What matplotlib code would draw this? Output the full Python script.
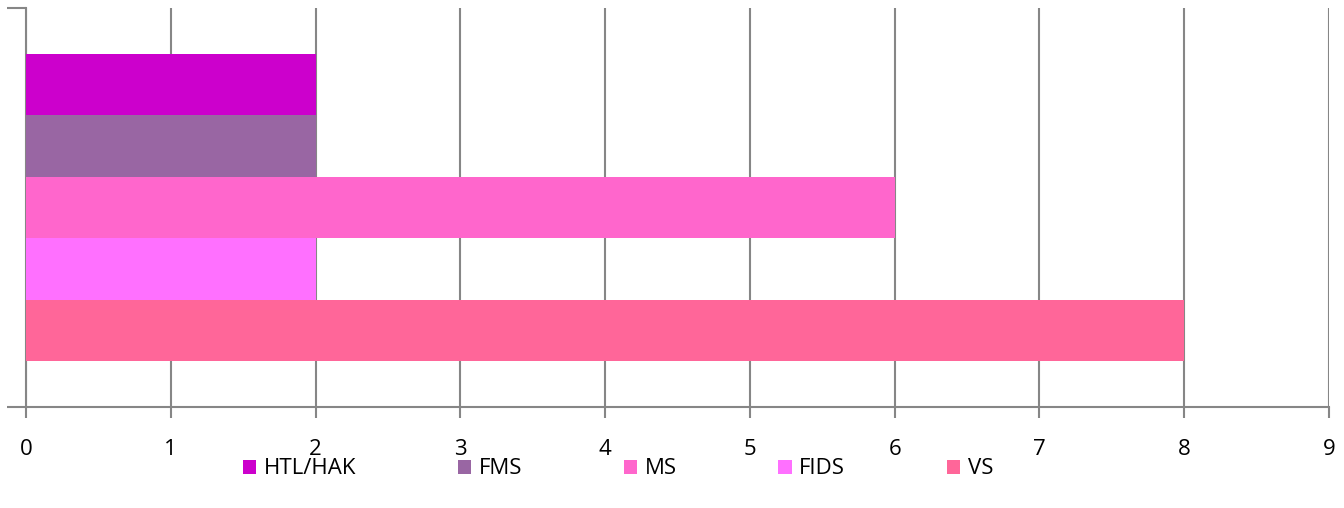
import matplotlib.pyplot as plt
from matplotlib.patches import Patch

# series, top to bottom as drawn
series = ["HTL/HAK", "FMS", "MS", "FIDS", "VS"]
values = [2, 2, 6, 2, 8]
colors = ["#CC00CC", "#9966A3", "#FF66CC", "#FF70FF", "#FF6699"]
xticks = list(range(0, 10))

plt.rcParams["font.family"] = ["Open Sans", "DejaVu Sans"]

fig = plt.figure(figsize=(13.44, 5.08), dpi=100)
ax = fig.add_axes([26 / 1344, 1 - 407 / 508, (1329 - 26) / 1344, (407 - 8) / 508])

n = len(series)
group = 0.77
h = group / n
for i, (name, val, col) in enumerate(zip(series, values, colors)):
    y = 0.5 + group / 2 - h * (i + 0.5)
    ax.barh(y, val, height=h, color=col, zorder=3, label=name)

ax.set_xlim(0, 9)
ax.set_ylim(0, 1)
ax.set_xticks(xticks)
ax.set_xticklabels([str(t) for t in xticks], fontsize=16)
ax.set_yticks([0, 1])
ax.set_yticklabels([])

grid_col = "#868686"
ax.grid(axis="x", color=grid_col, linewidth=1.5, zorder=1)
for s in ["top", "right"]:
    ax.spines[s].set_visible(False)
ax.spines["left"].set_color(grid_col)
ax.spines["bottom"].set_color(grid_col)
ax.spines["left"].set_linewidth(1.5)
ax.spines["bottom"].set_linewidth(1.5)
ax.tick_params(axis="x", colors=grid_col, labelcolor="black", length=8, width=1.5, pad=15)
ax.tick_params(axis="y", colors=grid_col, length=14, width=1.5)

handles = [Patch(facecolor=c, edgecolor="none") for c in colors]
fig.legend(handles, series, loc="center", bbox_to_anchor=(618 / 1344, 1 - 469 / 508),
           ncol=5, frameon=False, fontsize=16, handlelength=0.6, handleheight=0.6,
           handletextpad=0.35, columnspacing=4.56)

fig.savefig("out.png", dpi=100)
